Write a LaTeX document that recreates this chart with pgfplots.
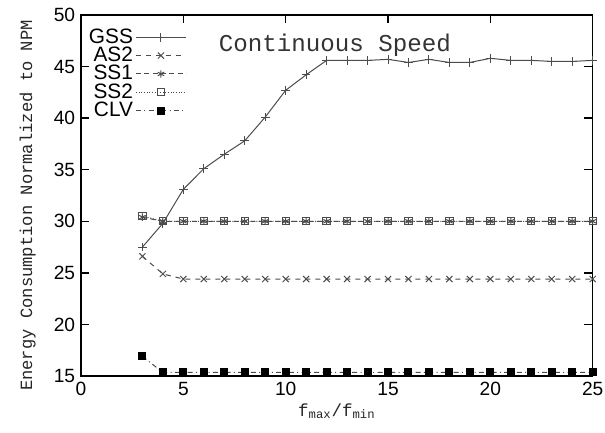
\documentclass[border=0pt]{standalone}
\usepackage{pgfplots}
\pgfplotsset{compat=1.18}
\usepackage{fontspec}
\setmainfont{Liberation Sans}
\setmonofont{Liberation Mono}
\begin{document}
\begin{tikzpicture}
\begin{axis}[
  scale only axis,
  width=307pt, height=216.6pt,
  xmin=0, xmax=25, ymin=15, ymax=50,
  xtick={0,5,...,25}, ytick={15,20,...,50},
  tick align=inside,
  tick style={black, thick},
  major tick length=5pt,
  axis line style={black, line width=0.8pt},
  /pgf/number format/assume math mode=true,
  tick label style={font=\fontsize{11.5}{12}\selectfont},
  xlabel={\fontsize{10.5}{12}\ttfamily f\textsubscript{max}/f\textsubscript{min}},
  ylabel={\fontsize{10.3}{12}\ttfamily Energy Consumption Normalized to NPM},
  ylabel style={yshift=4pt, xshift=-6pt, black!85},
  xlabel style={yshift=2pt, black!85},
  legend style={draw=none, fill=none, at={(0.01,0.97)}, anchor=north west,
    font=\fontsize{12.5}{12.5}\selectfont, row sep=-2.2pt, inner sep=0pt,
    nodes={inner sep=1.5pt}},
  legend cell align=right,
  legend plot pos=right,
  legend image code/.code={%
    \draw[mark repeat=2,mark phase=2] plot coordinates {(0pt,0pt)(15pt,0pt)(30pt,0pt)};},
  every axis plot/.append style={line width=0.6pt, black!70},
]
\addplot[mark=+, mark size=2.6pt, solid, mark options={solid}] coordinates {
(3,27.5)(4,29.8)(5,33.1)(6,35.1)(7,36.5)(8,37.8)(9,40.1)(10,42.7)(11,44.2)(12,45.6)
(13,45.6)(14,45.6)(15,45.7)(16,45.4)(17,45.7)(18,45.4)(19,45.4)(20,45.8)(21,45.6)
(22,45.6)(23,45.5)(24,45.5)(25,45.6)};
\addlegendentry{GSS}
\addplot[mark=x, mark size=2.6pt, dashed, mark options={solid}] coordinates {
(3,26.6)(4,24.9)(5,24.4)(6,24.4)(7,24.4)(8,24.4)(9,24.4)(10,24.4)(11,24.4)(12,24.4)
(13,24.4)(14,24.4)(15,24.4)(16,24.4)(17,24.4)(18,24.4)(19,24.4)(20,24.4)(21,24.4)
(22,24.4)(23,24.4)(24,24.4)(25,24.4)};
\addlegendentry{AS2}
\addplot[mark=asterisk, mark size=2.2pt, densely dashed, mark options={solid}] coordinates {
(3,30.4)(4,30.0)(5,30.0)(6,30.0)(7,30.0)(8,30.0)(9,30.0)(10,30.0)(11,30.0)(12,30.0)
(13,30.0)(14,30.0)(15,30.0)(16,30.0)(17,30.0)(18,30.0)(19,30.0)(20,30.0)(21,30.0)
(22,30.0)(23,30.0)(24,30.0)(25,30.0)};
\addlegendentry{SS1}
\addplot[mark=square, mark size=2.2pt, densely dotted, mark options={solid}] coordinates {
(3,30.5)(4,30.0)(5,30.0)(6,30.0)(7,30.0)(8,30.0)(9,30.0)(10,30.0)(11,30.0)(12,30.0)
(13,30.0)(14,30.0)(15,30.0)(16,30.0)(17,30.0)(18,30.0)(19,30.0)(20,30.0)(21,30.0)
(22,30.0)(23,30.0)(24,30.0)(25,30.0)};
\addlegendentry{SS2}
\addplot[mark=square*, mark size=2.1pt, dashdotted, mark options={solid, fill=black, draw=black}] coordinates {
(3,16.9)(4,15.35)(5,15.35)(6,15.35)(7,15.35)(8,15.35)(9,15.35)(10,15.35)(11,15.35)(12,15.35)
(13,15.35)(14,15.35)(15,15.35)(16,15.35)(17,15.35)(18,15.35)(19,15.35)(20,15.35)(21,15.35)
(22,15.35)(23,15.35)(24,15.35)(25,15.35)};
\addlegendentry{CLV}
\node[font=\fontsize{14.5}{15}\ttfamily, black!80] at (axis cs:12.4,47.1) {Continuous Speed};
\end{axis}
\pgfresetboundingbox
\path ([xshift=-48.6pt,yshift=-33.6pt]current axis.south west) rectangle ([xshift=7.4pt,yshift=9pt]current axis.north east);
\end{tikzpicture}
\end{document}
